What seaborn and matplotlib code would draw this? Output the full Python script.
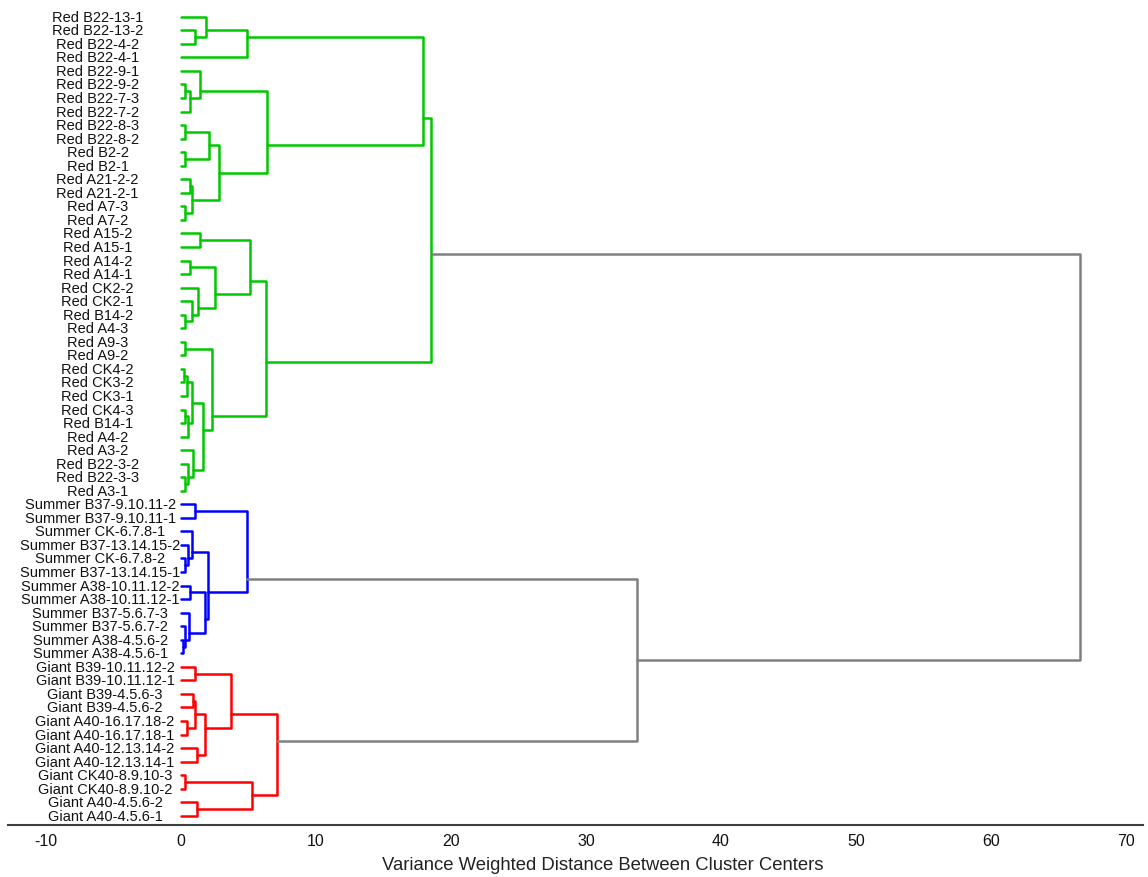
import numpy as np
import pandas as pd
import matplotlib
matplotlib.use("Agg")
import matplotlib.pyplot as plt
from matplotlib import font_manager
import seaborn as sns

# ---------------- data ----------------
leaf_labels = [
    "Red B22-13-1", "Red B22-13-2", "Red B22-4-2", "Red B22-4-1", "Red B22-9-1",
    "Red B22-9-2", "Red B22-7-3", "Red B22-7-2", "Red B22-8-3", "Red B22-8-2",
    "Red B2-2", "Red B2-1", "Red A21-2-2", "Red A21-2-1", "Red A7-3",
    "Red A7-2", "Red A15-2", "Red A15-1", "Red A14-2", "Red A14-1",
    "Red CK2-2", "Red CK2-1", "Red B14-2", "Red A4-3", "Red A9-3",
    "Red A9-2", "Red CK4-2", "Red CK3-2", "Red CK3-1", "Red CK4-3",
    "Red B14-1", "Red A4-2", "Red A3-2", "Red B22-3-2", "Red B22-3-3",
    "Red A3-1",
    "Summer B37-9.10.11-2", "Summer B37-9.10.11-1", "Summer CK-6.7.8-1",
    "Summer B37-13.14.15-2", "Summer CK-6.7.8-2", "Summer B37-13.14.15-1",
    "Summer A38-10.11.12-2", "Summer A38-10.11.12-1", "Summer B37-5.6.7-3",
    "Summer B37-5.6.7-2", "Summer A38-4.5.6-2", "Summer A38-4.5.6-1",
    "Giant B39-10.11.12-2", "Giant B39-10.11.12-1", "Giant B39-4.5.6-3",
    "Giant B39-4.5.6-2", "Giant A40-16.17.18-2", "Giant A40-16.17.18-1",
    "Giant A40-12.13.14-2", "Giant A40-12.13.14-1", "Giant CK40-8.9.10-3",
    "Giant CK40-8.9.10-2", "Giant A40-4.5.6-2", "Giant A40-4.5.6-1",
]
n_leaves = len(leaf_labels)  # 60 -> merge nodes are numbered 60, 61, ...

# (child a, child b, merge distance); nodes >= 60 are earlier merges in order
red_merges = [
    (1, 2, 1.07),     # 60
    (0, 60, 1.88),    # 61
    (61, 3, 4.94),    # 62
    (5, 6, 0.33),     # 63
    (63, 7, 0.70),    # 64
    (4, 64, 1.44),    # 65
    (8, 9, 0.33),     # 66
    (10, 11, 0.33),   # 67
    (66, 67, 2.13),   # 68
    (12, 13, 0.70),   # 69
    (14, 15, 0.33),   # 70
    (69, 70, 0.82),   # 71
    (68, 71, 2.87),   # 72
    (65, 72, 6.37),   # 73
    (62, 73, 17.94),  # 74
    (16, 17, 1.44),   # 75
    (18, 19, 0.70),   # 76
    (22, 23, 0.33),   # 77
    (21, 77, 0.82),   # 78
    (20, 78, 1.31),   # 79
    (76, 79, 2.55),   # 80
    (75, 80, 5.14),   # 81
    (24, 25, 0.33),   # 82
    (26, 27, 0.25),   # 83
    (83, 28, 0.50),   # 84
    (29, 30, 0.30),   # 85
    (85, 31, 0.55),   # 86
    (84, 86, 0.82),   # 87
    (34, 35, 0.33),   # 88
    (33, 88, 0.57),   # 89
    (32, 89, 0.94),   # 90
    (87, 90, 1.68),   # 91
    (82, 91, 2.30),   # 92
    (81, 92, 6.32),   # 93
    (74, 93, 18.53),  # 94
]
summer_merges = [
    (36, 37, 1.07),   # 95
    (40, 41, 0.30),   # 96
    (39, 96, 0.55),   # 97
    (38, 97, 0.82),   # 98
    (42, 43, 0.70),   # 99
    (46, 47, 0.20),   # 100
    (45, 100, 0.35),  # 101
    (44, 101, 0.60),  # 102
    (99, 102, 1.80),  # 103
    (98, 103, 2.05),  # 104
    (95, 104, 4.94),  # 105
]
giant_merges = [
    (48, 49, 1.07),   # 106
    (50, 51, 0.94),   # 107
    (52, 53, 0.45),   # 108
    (107, 108, 1.07), # 109
    (54, 55, 1.19),   # 110
    (109, 110, 1.80), # 111
    (106, 111, 3.73), # 112
    (56, 57, 0.33),   # 113
    (58, 59, 1.19),   # 114
    (113, 114, 5.26), # 115
    (112, 115, 7.11), # 116
]
top_merges = [
    (105, 116, 33.78),  # 117
    (94, 117, 66.60),   # 118
]

group_colors = {"red": "#00C800", "summer": "#0000FF", "giant": "#FF0000", "top": "#808080"}
x_ticks = [-10, 0, 10, 20, 30, 40, 50, 60, 70]
x_title = "Variance Weighted Distance Between Cluster Centers"

# ---------------- build link segments ----------------
members = {i: [i] for i in range(n_leaves)}
height = {i: 0.0 for i in range(n_leaves)}
rows = []
node = n_leaves
for group, merges in [("red", red_merges), ("summer", summer_merges),
                      ("giant", giant_merges), ("top", top_merges)]:
    for a, b, h in merges:
        ya = np.mean(members[a])
        yb = np.mean(members[b])
        pts = [(height[a], ya), (h, ya), (h, yb), (height[b], yb)]
        for k, (px, py) in enumerate(pts):
            rows.append({"link": node, "order": k, "x": px, "y": py, "group": group})
        members[node] = members[a] + members[b]
        height[node] = h
        node += 1
seg = pd.DataFrame(rows)

# ---------------- figure ----------------
sns.set_style("white")
names = {f.name for f in font_manager.fontManager.ttflist}
base_font = "Liberation Sans" if "Liberation Sans" in names else "DejaVu Sans"
narrow_font = "Liberation Sans Narrow" if "Liberation Sans Narrow" in names else base_font
plt.rcParams["font.family"] = [base_font, "DejaVu Sans"]

fig = plt.figure(figsize=(11.48, 8.78), dpi=100)
ax = fig.add_axes([8 / 1148, 52 / 878, 1135 / 1148, (826 - 4.5) / 878])

sns.lineplot(data=seg, x="x", y="y", units="link", hue="group", palette=group_colors,
             estimator=None, sort=False, legend=False, linewidth=1.8, ax=ax)

for i, lab in enumerate(leaf_labels):
    if lab.startswith("Giant"):
        cx = -5.6
    elif lab.startswith("Summer"):
        cx = -5.95
    else:
        cx = -6.15
    ax.text(cx, i, lab, ha="center", va="center", fontsize=10.5, color="#111111")

ax.set_xlim(-12.78, 71.24)
ax.set_ylim(59.68, -0.98)
ax.set_xticks(x_ticks)
ax.set_xticklabels([str(t) for t in x_ticks], fontfamily=narrow_font, fontsize=11.5)
ax.set_yticks([])
ax.set_xlabel(x_title, fontsize=13.3, color="#222222")
ax.xaxis.set_label_coords(0.524, -0.038)
ax.set_ylabel("")
for s in ["left", "top", "right"]:
    ax.spines[s].set_visible(False)
ax.spines["bottom"].set_color("#404040")
ax.spines["bottom"].set_linewidth(1.5)
ax.tick_params(axis="x", direction="in", length=10, width=1.0, color="#222222",
               pad=6, labelcolor="#111111")
ax.grid(False)

fig.savefig("out.png", dpi=100)
